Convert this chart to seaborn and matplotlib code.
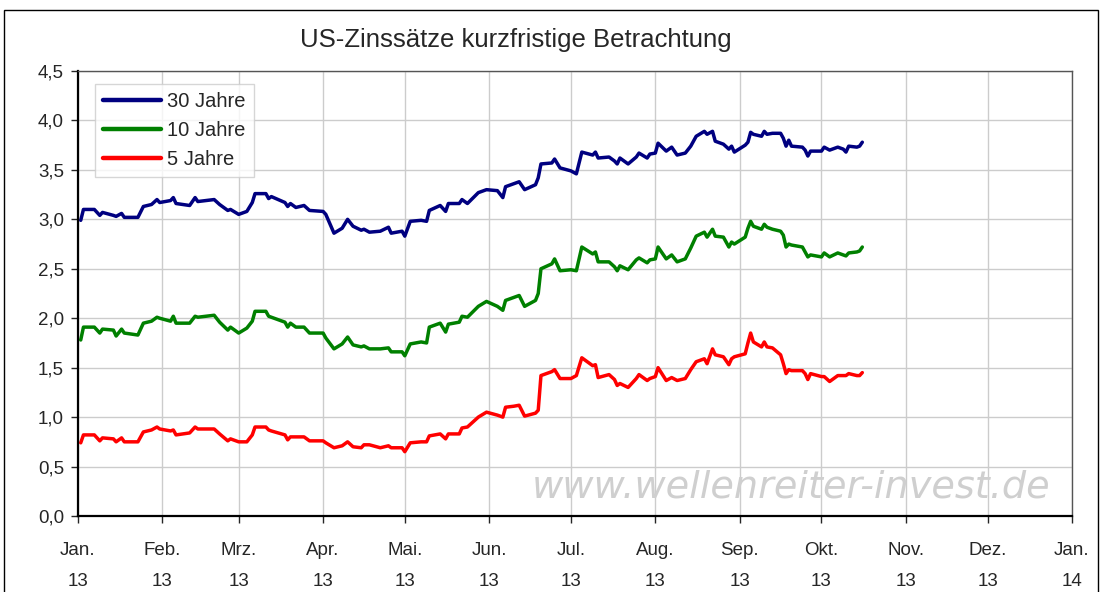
import pandas as pd
import numpy as np
import seaborn as sns
import matplotlib.pyplot as plt
from matplotlib.patches import Rectangle
from matplotlib.ticker import FuncFormatter

# Data (trading days 2013)
dates = ['2013-01-02', '2013-01-03', '2013-01-07', '2013-01-09', '2013-01-10', '2013-01-14',
         '2013-01-15', '2013-01-17', '2013-01-18', '2013-01-23', '2013-01-25', '2013-01-28',
         '2013-01-30', '2013-01-31', '2013-02-04', '2013-02-05', '2013-02-06', '2013-02-11',
         '2013-02-13', '2013-02-14', '2013-02-20', '2013-02-22', '2013-02-25', '2013-02-26',
         '2013-03-01', '2013-03-04', '2013-03-06', '2013-03-07', '2013-03-11', '2013-03-12',
         '2013-03-13', '2013-03-18', '2013-03-19', '2013-03-20', '2013-03-22', '2013-03-25',
         '2013-03-27', '2013-04-01', '2013-04-02', '2013-04-05', '2013-04-08', '2013-04-10',
         '2013-04-12', '2013-04-15', '2013-04-16', '2013-04-18', '2013-04-22', '2013-04-25',
         '2013-04-26', '2013-04-30', '2013-05-01', '2013-05-03', '2013-05-07', '2013-05-09',
         '2013-05-10', '2013-05-14', '2013-05-16', '2013-05-17', '2013-05-21', '2013-05-22',
         '2013-05-24', '2013-05-28', '2013-05-31', '2013-06-04', '2013-06-06', '2013-06-07',
         '2013-06-10', '2013-06-12', '2013-06-14', '2013-06-18', '2013-06-19', '2013-06-20',
         '2013-06-24', '2013-06-25', '2013-06-27', '2013-07-01', '2013-07-03', '2013-07-05',
         '2013-07-09', '2013-07-10', '2013-07-11', '2013-07-15', '2013-07-17', '2013-07-18',
         '2013-07-19', '2013-07-22', '2013-07-25', '2013-07-26', '2013-07-29', '2013-07-30',
         '2013-08-01', '2013-08-02', '2013-08-05', '2013-08-07', '2013-08-09', '2013-08-12',
         '2013-08-14', '2013-08-16', '2013-08-19', '2013-08-20', '2013-08-22', '2013-08-23',
         '2013-08-26', '2013-08-28', '2013-08-29', '2013-08-30', '2013-09-03', '2013-09-04',
         '2013-09-05', '2013-09-06', '2013-09-09', '2013-09-10', '2013-09-11', '2013-09-13',
         '2013-09-16', '2013-09-17', '2013-09-18', '2013-09-19', '2013-09-20', '2013-09-24',
         '2013-09-25', '2013-09-26', '2013-09-27', '2013-10-01', '2013-10-02', '2013-10-04',
         '2013-10-07', '2013-10-09', '2013-10-10', '2013-10-11', '2013-10-14', '2013-10-15',
         '2013-10-16']

y30 = [2.99, 3.10, 3.10, 3.04, 3.07, 3.04, 3.03, 3.06, 3.02, 3.02, 3.13, 3.15,
       3.20, 3.17, 3.19, 3.22, 3.16, 3.14, 3.22, 3.18, 3.20, 3.15, 3.09, 3.10,
       3.05, 3.08, 3.17, 3.26, 3.26, 3.21, 3.23, 3.17, 3.13, 3.16, 3.12, 3.14,
       3.09, 3.08, 3.05, 2.86, 2.91, 3.00, 2.93, 2.89, 2.90, 2.87, 2.88, 2.92,
       2.86, 2.88, 2.83, 2.98, 2.99, 2.98, 3.09, 3.14, 3.08, 3.16, 3.16, 3.20,
       3.16, 3.27, 3.30, 3.29, 3.22, 3.33, 3.36, 3.38, 3.30, 3.35, 3.42, 3.56,
       3.57, 3.61, 3.52, 3.49, 3.46, 3.68, 3.65, 3.68, 3.62, 3.63, 3.59, 3.56,
       3.62, 3.56, 3.63, 3.67, 3.62, 3.66, 3.67, 3.77, 3.69, 3.73, 3.65, 3.67,
       3.74, 3.84, 3.89, 3.86, 3.89, 3.79, 3.76, 3.71, 3.74, 3.68, 3.75, 3.78,
       3.88, 3.86, 3.84, 3.89, 3.86, 3.87, 3.87, 3.82, 3.74, 3.80, 3.74, 3.73,
       3.70, 3.64, 3.69, 3.69, 3.73, 3.70, 3.73, 3.71, 3.68, 3.74, 3.73, 3.74,
       3.78]

y10 = [1.78, 1.91, 1.91, 1.85, 1.89, 1.88, 1.82, 1.89, 1.85, 1.83, 1.95, 1.97,
       2.01, 2.00, 1.97, 2.02, 1.95, 1.95, 2.02, 2.01, 2.03, 1.96, 1.88, 1.91,
       1.85, 1.90, 1.97, 2.07, 2.07, 2.02, 2.01, 1.96, 1.91, 1.95, 1.91, 1.91,
       1.85, 1.85, 1.80, 1.69, 1.74, 1.81, 1.73, 1.71, 1.72, 1.69, 1.69, 1.70,
       1.66, 1.66, 1.62, 1.74, 1.76, 1.75, 1.91, 1.95, 1.86, 1.94, 1.96, 2.02,
       2.01, 2.12, 2.17, 2.12, 2.08, 2.18, 2.21, 2.23, 2.12, 2.18, 2.25, 2.50,
       2.55, 2.60, 2.48, 2.49, 2.48, 2.72, 2.65, 2.67, 2.57, 2.57, 2.52, 2.48,
       2.53, 2.49, 2.59, 2.61, 2.56, 2.59, 2.60, 2.72, 2.60, 2.64, 2.57, 2.60,
       2.71, 2.83, 2.87, 2.82, 2.90, 2.83, 2.82, 2.72, 2.77, 2.75, 2.82, 2.91,
       2.98, 2.93, 2.90, 2.95, 2.92, 2.90, 2.88, 2.84, 2.72, 2.75, 2.74, 2.72,
       2.67, 2.62, 2.64, 2.62, 2.66, 2.62, 2.66, 2.64, 2.63, 2.66, 2.67, 2.68,
       2.72]

y5 = [0.74, 0.82, 0.82, 0.76, 0.79, 0.78, 0.75, 0.79, 0.75, 0.75, 0.85, 0.87,
      0.90, 0.88, 0.86, 0.87, 0.82, 0.84, 0.90, 0.88, 0.88, 0.83, 0.76, 0.78,
      0.75, 0.75, 0.82, 0.90, 0.90, 0.87, 0.86, 0.82, 0.77, 0.80, 0.80, 0.80,
      0.76, 0.76, 0.74, 0.69, 0.71, 0.75, 0.70, 0.69, 0.72, 0.72, 0.69, 0.71,
      0.69, 0.69, 0.65, 0.74, 0.75, 0.75, 0.81, 0.83, 0.78, 0.83, 0.83, 0.89,
      0.90, 1.00, 1.05, 1.02, 1.00, 1.10, 1.11, 1.12, 1.01, 1.04, 1.07, 1.42,
      1.46, 1.48, 1.39, 1.39, 1.42, 1.60, 1.52, 1.53, 1.40, 1.43, 1.38, 1.32,
      1.34, 1.30, 1.39, 1.43, 1.37, 1.39, 1.41, 1.50, 1.37, 1.40, 1.37, 1.39,
      1.48, 1.56, 1.59, 1.54, 1.69, 1.63, 1.61, 1.53, 1.59, 1.61, 1.64, 1.75,
      1.85, 1.76, 1.71, 1.76, 1.71, 1.70, 1.63, 1.54, 1.44, 1.48, 1.47, 1.47,
      1.44, 1.38, 1.44, 1.41, 1.41, 1.36, 1.42, 1.42, 1.42, 1.44, 1.42, 1.42,
      1.45]

series_names = ['30 Jahre', '10 Jahre', '5 Jahre']
colors = ['#000080', '#008000', '#FF0000']

month_labels = ['Jan.', 'Feb.', 'Mrz.', 'Apr.', 'Mai.', 'Jun.', 'Jul.', 'Aug.',
                'Sep.', 'Okt.', 'Nov.', 'Dez.', 'Jan.']
year_labels = ['13'] * 12 + ['14']

# Long form table for seaborn
d = pd.to_datetime(dates)
df = pd.concat([
    pd.DataFrame({'Datum': d, 'Zins': y30, 'Laufzeit': series_names[0]}),
    pd.DataFrame({'Datum': d, 'Zins': y10, 'Laufzeit': series_names[1]}),
    pd.DataFrame({'Datum': d, 'Zins': y5, 'Laufzeit': series_names[2]}),
], ignore_index=True)

sns.set_style('white')
plt.rcParams['font.family'] = ['Liberation Sans', 'DejaVu Sans']

fig = plt.figure(figsize=(11.02, 5.92), dpi=100)
ax = fig.add_axes([78 / 1102, 76 / 592, 994 / 1102, 445 / 592])

# Outer chart frame
fig.patches.append(Rectangle((4 / 1102, -0.05), 1094 / 1102, 1.05 - 10 / 592,
                             transform=fig.transFigure, fill=False,
                             edgecolor='#000000', linewidth=1.0))

sns.lineplot(data=df, x='Datum', y='Zins', hue='Laufzeit', hue_order=series_names,
             palette=colors, linewidth=2.5, ax=ax, legend=False)

ticks = pd.date_range('2013-01-01', '2014-01-01', freq='MS')
ax.set_xlim(ticks[0], ticks[-1])
ax.set_xticks(ticks)
ax.set_xticklabels([f'{m}\n{y}' for m, y in zip(month_labels, year_labels)],
                   fontsize=13.5, linespacing=2.05)
ax.set_ylim(0, 4.5)
ax.set_yticks(np.arange(0, 4.51, 0.5))
ax.yaxis.set_major_formatter(FuncFormatter(lambda v, p: f'{v:.1f}'.replace('.', ',')))
ax.tick_params(axis='y', labelsize=13.5, direction='out', length=5, width=1, left=True, pad=5)
ax.tick_params(axis='x', direction='out', length=5, width=1, bottom=True, pad=14)

ax.grid(True, color='#cccccc', linewidth=1)
ax.set_axisbelow(True)
ax.set_xlabel('')
ax.set_ylabel('')

for side in ['left', 'bottom']:
    ax.spines[side].set_color('#000000')
    ax.spines[side].set_linewidth(1.6)
for side in ['top', 'right']:
    ax.spines[side].set_color('#555555')
    ax.spines[side].set_linewidth(1.0)

# Legend
handles = [plt.Line2D([0], [0], color=c, linewidth=3.2) for c in colors]
leg = ax.legend(handles, series_names, loc='upper left', bbox_to_anchor=(0.017, 0.971),
                borderaxespad=0, fontsize=14.5, frameon=True, fancybox=False,
                handlelength=2.9, handletextpad=0.3, labelspacing=0.5, borderpad=0.4)
leg.get_frame().set_edgecolor('#cccccc')
leg.get_frame().set_linewidth(1.0)

# Title and watermark
fig.text(516 / 1102, 1 - 40 / 592, 'US-Zinssätze kurzfristige Betrachtung',
         ha='center', va='center', fontsize=18.5)
ax.text(0.717, 0.064, 'www.wellenreiter-invest.de', transform=ax.transAxes,
        ha='center', va='center', fontsize=27.5, color='#cfcfcf', fontstyle='italic',
        family='DejaVu Sans')

fig.savefig('out.png', dpi=100)
